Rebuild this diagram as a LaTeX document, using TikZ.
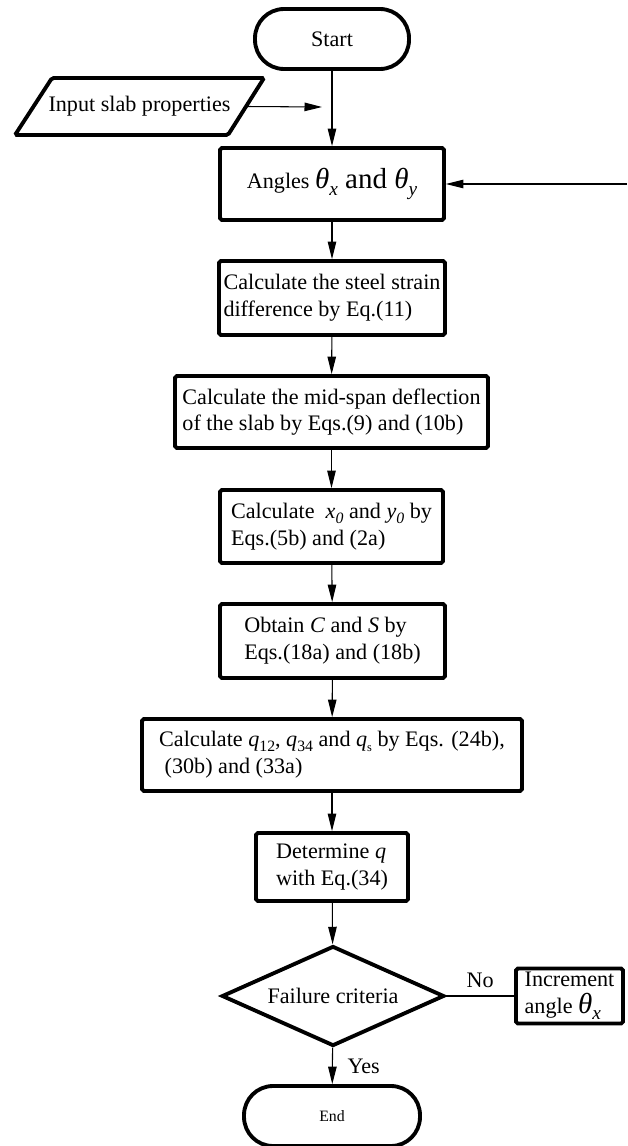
\documentclass[tikz,border=0pt]{standalone}
\usepackage{fontspec}
\setmainfont{Liberation Serif}
\usepackage{tikz}
\usetikzlibrary{arrows.meta,shapes.geometric}
\newcommand{\thetasub}[1]{{\itshape θ}\raisebox{-0.5ex}{\fontsize{11}{11}\selectfont\itshape #1}}
\newcommand{\lowsub}[1]{\raisebox{-0.45ex}{\fontsize{9}{9}\selectfont #1}}

\begin{document}
\begin{tikzpicture}[x=0.02cm,y=-0.02cm,font=\fontsize{12.6}{15.2}\selectfont,
    flowbox/.style={draw,line width=2.2pt,rounded corners=1pt,align=left,inner sep=1pt},
    terminal/.style={draw,line width=2.2pt,rounded corners=0.58cm,minimum height=1.2cm},
    link/.style={line width=0.6pt,-{Triangle[length=3.5mm,width=1.7mm]}}]
    \useasboundingbox (0,0) rectangle (627,1146);
    \node[terminal,minimum width=3.08cm] (start) at (332,39) {Start};
    % input parallelogram
    \draw[line width=2.2pt,rounded corners=1pt] (52,78) -- (264,78) -- (228,135) -- (15,135) -- cycle;
    \node[minimum width=4.3cm,inner sep=1pt] (input) at (139.5,106.5) {Input slab properties};
    \node[flowbox,minimum width=4.48cm,minimum height=1.44cm] (angles) at (332,184) {Angles {\fontsize{16.5}{18}\selectfont\thetasub{x} and \thetasub{y}}};
    \node[flowbox,minimum width=4.52cm,minimum height=1.48cm] (strain) at (332,298) {Calculate the steel strain\\difference by Eq.(11)};
    \node[flowbox,minimum width=6.26cm,minimum height=1.44cm] (deflect) at (331.5,412) {Calculate the mid-span deflection\\of the slab by Eqs.(9) and (10b)};
    \node[flowbox,minimum width=4.46cm,minimum height=1.46cm] (origin) at (331.5,526.5) {Calculate\ \ \textit{x}\lowsub{\itshape 0} and \textit{y}\lowsub{\itshape 0} by\\Eqs.(5b) and (2a)};
    \node[flowbox,minimum width=4.5cm,minimum height=1.48cm] (coeff) at (332.5,641) {Obtain \textit{C} and \textit{S} by\\Eqs.(18a) and (18b)};
    \node[flowbox,minimum width=7.6cm,minimum height=1.44cm] (loads) at (332,755) {Calculate \textit{q}\lowsub{12}, \textit{q}\lowsub{34} and \textit{q}\lowsub{\fontsize{7}{7}\selectfont s} by Eqs. (24b),\\\ (30b) and (33a)};
    \node[flowbox,minimum width=3.04cm,minimum height=1.36cm] (final) at (332,867) {Determine \textit{q}\\with Eq.(34)};
    \node[draw,line width=2.2pt,diamond,aspect=2.2,minimum width=4.45cm,minimum height=2.0cm,inner sep=1pt] (check) at (333,996) {Failure criteria};
    \node[flowbox,minimum width=2.14cm,minimum height=1.1cm] (incr) at (569.5,996) {Increment\\angle {\fontsize{16.5}{18}\selectfont\thetasub{x}}};
    \node[terminal,minimum width=3.52cm,font=\fontsize{9}{11}\selectfont] (finish) at (332,1116) {End};
    % free ends
    \coordinate (inend) at (322,107);
    \coordinate (loopin) at (627,184);
    \draw[link] (input.east) -- (inend);
    \draw[link] (start) -- (angles);
    \draw[link] (loopin) -- (angles);
    \draw[link] (angles) -- (strain);
    \draw[link] (strain) -- (deflect);
    \draw[link] (deflect) -- (origin);
    \draw[link] (origin) -- (coeff);
    \draw[link] (coeff) -- (loads);
    \draw[link] (loads) -- (final);
    \draw[link] (final) -- (check);
    \draw[link] (check) -- node[right=5pt]{Yes} (finish);
    \draw[line width=0.6pt] (check) -- node[above=1pt]{No} (incr);
\end{tikzpicture}
\end{document}
